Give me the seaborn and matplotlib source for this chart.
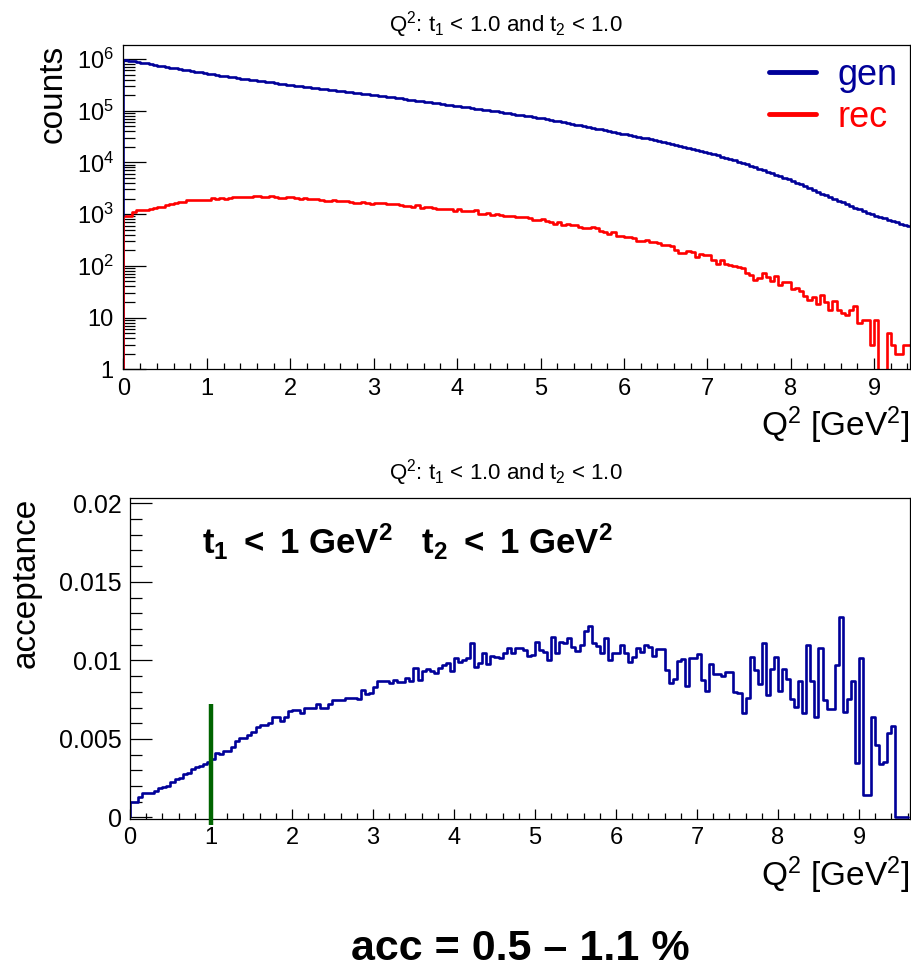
import numpy as np
import pandas as pd
import matplotlib
matplotlib.use("Agg")
import matplotlib.pyplot as plt
import seaborn as sns
from matplotlib.ticker import MultipleLocator, LogLocator, FuncFormatter, NullFormatter
from matplotlib.lines import Line2D

# ---------------- data ----------------
BIN_WIDTH = 0.05  # GeV^2 per bin, histograms start at Q2 = 0

gen_counts = [
    962000, 931000, 902000, 873000, 845000, 818000, 793000, 767000, 743000, 719000,
    697000, 677000, 657000, 638000, 619000, 600000, 583000, 565000, 549000, 533000,
    518000, 504000, 490000, 476000, 463000, 451000, 439000, 427000, 415000, 404000,
    394000, 385000, 376000, 367000, 359000, 351000, 343000, 335000, 327000, 320000,
    313000, 305000, 299000, 292000, 285000, 279000, 272000, 266000, 260000, 254000,
    248000, 243000, 237000, 232000, 226000, 221000, 216000, 211000, 207000, 202000,
    197000, 193000, 188000, 184000, 180000, 176000, 172000, 168000, 164000, 160000,
    156500, 152600, 148800, 145000, 141400, 137900, 134400, 131100, 127800, 124600,
    121500, 118400, 115500, 112600, 109800, 107000, 104300, 101700, 99200, 96700,
    94200, 91600, 89100, 86700, 84300, 82000, 79800, 77600, 75500, 73500,
    71200, 68800, 66400, 64200, 62000, 59900, 57900, 55900, 54000, 52200,
    50400, 48500, 46800, 45100, 43500, 41900, 40400, 38900, 37500, 36100,
    34800, 33600, 32400, 31200, 30100, 29000, 27900, 26900, 25900, 25000,
    24000, 23000, 22000, 21100, 20200, 19300, 18500, 17700, 16900, 16200,
    15400, 14500, 13700, 13000, 12200, 11550, 10900, 10300, 9720, 9170,
    8620, 8060, 7540, 7050, 6600, 6170, 5770, 5400, 5050, 4730,
    4390, 4050, 3740, 3450, 3180, 2930, 2710, 2500, 2300, 2130,
    1970, 1820, 1690, 1560, 1450, 1340, 1250, 1150, 1070, 993,
    927, 875, 824, 778, 733, 692, 652, 615, 580,
]

rec_counts = [
    900, 900, 1100, 1200, 1180, 1180, 1250, 1330, 1370, 1380,
    1500, 1600, 1610, 1720, 1720, 1848, 1877, 1859, 1883, 1887,
    1911, 2082, 1965, 2009, 1954, 2030, 2125, 2165, 2104, 2117,
    2147, 2206, 2211, 2158, 2165, 2236, 2185, 2057, 2083, 2166,
    2138, 2083, 1991, 2026, 1978, 1953, 1958, 1846, 1804, 1829,
    1853, 1815, 1770, 1759, 1713, 1675, 1629, 1711, 1625, 1604,
    1631, 1675, 1632, 1597, 1544, 1540, 1486, 1452, 1458, 1389,
    1485, 1335, 1387, 1367, 1318, 1265, 1281, 1272, 1259, 1161,
    1231, 1173, 1157, 1141, 1221, 1027, 1027, 1067, 969, 996,
    961, 928, 935, 934, 881, 886, 862, 827, 775, 760,
    797, 733, 698, 643, 713, 628, 648, 619, 618, 567,
    534, 533, 556, 550, 482, 458, 422, 443, 376, 379,
    365, 369, 339, 309, 308, 313, 294, 295, 282, 257,
    258, 247, 206, 180, 178, 192, 186, 148, 171, 164,
    160, 127, 111, 127, 111, 105, 98, 95, 90, 73,
    68, 53, 57, 72, 62, 52, 64, 42, 48, 48,
    35, 38, 33, 26, 22, 25, 18, 27, 20, 14,
    21, 14, 12, 11, 14, 17, 8, 9, 9, 3,
    9, 0, 0, 5, 3, 2, 2, 3, 3,
]

acceptance = [
    0.00099, 0.00099, 0.00131, 0.00153, 0.00153, 0.00153, 0.00170, 0.00185, 0.00195, 0.00201,
    0.00227, 0.00242, 0.00248, 0.00276, 0.00284, 0.00308, 0.00322, 0.00329, 0.00343, 0.00354,
    0.00369, 0.00413, 0.00401, 0.00422, 0.00422, 0.00450, 0.00484, 0.00507, 0.00507, 0.00524,
    0.00545, 0.00573, 0.00588, 0.00588, 0.00603, 0.00637, 0.00637, 0.00614, 0.00637, 0.00677,
    0.00683, 0.00683, 0.00666, 0.00694, 0.00694, 0.00700, 0.00720, 0.00694, 0.00694, 0.00720,
    0.00747, 0.00747, 0.00747, 0.00758, 0.00758, 0.00758, 0.00754, 0.00811, 0.00785, 0.00794,
    0.00828, 0.00868, 0.00868, 0.00868, 0.00858, 0.00875, 0.00864, 0.00864, 0.00889, 0.00868,
    0.00949, 0.00875, 0.00932, 0.00943, 0.00932, 0.00917, 0.00953, 0.00970, 0.00985, 0.00932,
    0.01013, 0.00991, 0.01002, 0.01013, 0.01112, 0.00960, 0.00985, 0.01049, 0.00977, 0.01030,
    0.01020, 0.01013, 0.01049, 0.01077, 0.01045, 0.01080, 0.01080, 0.01066, 0.01027, 0.01034,
    0.01119, 0.01066, 0.01051, 0.01002, 0.01150, 0.01049, 0.01119, 0.01108, 0.01144, 0.01087,
    0.01059, 0.01098, 0.01189, 0.01220, 0.01108, 0.01093, 0.01045, 0.01140, 0.01002, 0.01049,
    0.01049, 0.01098, 0.01045, 0.00991, 0.01023, 0.01080, 0.01055, 0.01098, 0.01087, 0.01027,
    0.01074, 0.01074, 0.00938, 0.00854, 0.00879, 0.00996, 0.01006, 0.00836, 0.01013, 0.01013,
    0.01038, 0.00875, 0.00807, 0.00977, 0.00913, 0.00913, 0.00902, 0.00927, 0.00927, 0.00800,
    0.00790, 0.00662, 0.00758, 0.01020, 0.00938, 0.00849, 0.01108, 0.00779, 0.00943, 0.01020,
    0.00807, 0.00943, 0.00881, 0.00752, 0.00705, 0.00868, 0.00662, 0.01098, 0.00870, 0.00641,
    0.01077, 0.00747, 0.00690, 0.00690, 0.00970, 0.01274, 0.00673, 0.00754, 0.00868, 0.00344,
    0.01013, 0.00146, 0.00146, 0.00637, 0.00460, 0.00340, 0.00350, 0.00535, 0.00581, 0.0,
    0.0, 0.0,
]

series_labels = ["gen", "rec"]
title_text = r"Q$^2$: t$_1$ < 1.0 and t$_2$ < 1.0"
xlabel_text = r"Q$^2$ [GeV$^2$]"
ylabel_top = "counts"
ylabel_bottom = "acceptance"
cut_text = r"$\mathbf{t_1\ <\ 1\ GeV^2\ \ \ t_2\ <\ 1\ GeV^2}$"
caption_text = "acc = 0.5 \u2013 1.1 %"
marker_q2 = 1.0          # green marker position
marker_top = 0.0072      # green marker top
marker_bottom = -0.0005  # green marker bottom (reaches a bit below frame)

# ---------------- style ----------------
sns.set_style("ticks")
plt.rcParams.update({
    "font.family": ["Liberation Sans", "DejaVu Sans"],
    "mathtext.fontset": "custom",
    "mathtext.rm": "Liberation Sans",
    "mathtext.it": "Liberation Sans:italic",
    "mathtext.bf": "Liberation Sans:bold",
    "mathtext.sf": "Liberation Sans",
    "axes.linewidth": 0.9,
    "axes.edgecolor": "black",
    "axes.labelcolor": "black",
    "text.color": "black",
    "xtick.color": "black",
    "ytick.color": "black",
    "xtick.labelcolor": "black",
    "ytick.labelcolor": "black",
})

GEN_COLOR = "#000099"
REC_COLOR = "#ff0000"
ACC_COLOR = "#000099"
MARK_COLOR = "#006400"
LW = 1.9


def hist_frame(values):
    n = len(values)
    edges = np.arange(n + 1) * BIN_WIDTH
    centers = edges[:-1] + BIN_WIDTH / 2
    return pd.DataFrame({"q2": centers, "w": values}), [float(e) for e in edges]


W, H = 912, 971
fig = plt.figure(figsize=(W / 100, H / 100), dpi=100)
ax1 = fig.add_axes([123.5 / W, 1 - 369.3 / H, (910 - 123.5) / W, (369.3 - 45) / H])
ax2 = fig.add_axes([130 / W, 1 - 819 / H, (910 - 130) / W, (819 - 497.7) / H])

# ---------------- top panel ----------------
gen_df, gen_edges = hist_frame(gen_counts)
rec_df, rec_edges = hist_frame(rec_counts)
sns.histplot(data=gen_df, x="q2", weights="w", bins=gen_edges, element="step",
             fill=False, color=GEN_COLOR, linewidth=LW, ax=ax1)
sns.histplot(data=rec_df, x="q2", weights="w", bins=rec_edges, element="step",
             fill=False, color=REC_COLOR, linewidth=LW, ax=ax1)
ax1.set_yscale("log")
y1min, y1max = 1, 1.86e6
ax1.vlines(gen_edges[0], y1min, gen_counts[0], color=GEN_COLOR, lw=LW)
ax1.vlines(rec_edges[0], y1min, rec_counts[0], color=REC_COLOR, lw=LW)
ax1.set_xlim(0, 9.43)
ax1.set_ylim(y1min, y1max)

ax1.xaxis.set_major_locator(MultipleLocator(1))
ax1.xaxis.set_minor_locator(MultipleLocator(0.2))
ax1.yaxis.set_major_locator(LogLocator(base=10, numticks=12))
ax1.yaxis.set_minor_locator(LogLocator(base=10, subs=np.arange(2, 10), numticks=40))
ax1.yaxis.set_minor_formatter(NullFormatter())


def logfmt(v, pos):
    e = int(round(np.log10(v)))
    if e == 0:
        return "1"
    if e == 1:
        return "10"
    return r"$10^{%d}$" % e


ax1.yaxis.set_major_formatter(FuncFormatter(logfmt))
ax1.tick_params(axis="both", which="both", direction="in", top=False, right=False,
                labelsize=17, width=0.9)
ax1.tick_params(axis="x", which="major", length=8, pad=6)
ax1.tick_params(axis="x", which="minor", length=4.3)
ax1.tick_params(axis="y", which="major", length=16.5, pad=7)
ax1.tick_params(axis="y", which="minor", length=8.5)

ax1.set_xlabel(xlabel_text, fontsize=24, loc="right")
ax1.xaxis.set_label_coords(1.0, -0.11)
ax1.set_ylabel(ylabel_top, fontsize=24, loc="top")
ax1.yaxis.set_label_coords(-0.07, 1.0)

handles = [Line2D([], [], color=GEN_COLOR, lw=3.5), Line2D([], [], color=REC_COLOR, lw=3.5)]
ax1.legend(handles, series_labels, loc="upper right", frameon=False, fontsize=26,
           labelcolor=[GEN_COLOR, REC_COLOR], handlelength=1.3, handletextpad=0.6,
           labelspacing=0.2, borderaxespad=0.15, borderpad=0.2)

fig.text(0.555, 1 - 25 / H, title_text, ha="center", va="center", fontsize=16)

# ---------------- bottom panel ----------------
acc_df, acc_edges = hist_frame(acceptance)
sns.histplot(data=acc_df, x="q2", weights="w", bins=acc_edges, element="step",
             fill=False, color=ACC_COLOR, linewidth=LW, ax=ax2)
ax2.vlines(acc_edges[0], 0, acceptance[0], color=ACC_COLOR, lw=LW)
ax2.vlines(marker_q2, marker_bottom, marker_top, color=MARK_COLOR, lw=3.2,
           clip_on=False, zorder=5)
ax2.set_xlim(0, 9.63)
ax2.set_ylim(-0.0001, 0.02036)

ax2.xaxis.set_major_locator(MultipleLocator(1))
ax2.xaxis.set_minor_locator(MultipleLocator(0.2))
ax2.yaxis.set_major_locator(MultipleLocator(0.005))
ax2.yaxis.set_minor_locator(MultipleLocator(0.001))
ax2.yaxis.set_major_formatter(FuncFormatter(lambda v, p: "%g" % round(v, 6)))
ax2.tick_params(axis="both", which="both", direction="in", top=False, right=False,
                width=0.9)
ax2.tick_params(axis="x", which="major", length=7.5, pad=6, labelsize=17)
ax2.tick_params(axis="x", which="minor", length=4)
ax2.tick_params(axis="y", which="major", length=16, pad=6, labelsize=18)
ax2.tick_params(axis="y", which="minor", length=8.5)

ax2.set_xlabel(xlabel_text, fontsize=24, loc="right")
ax2.xaxis.set_label_coords(1.0, -0.11)
ax2.set_ylabel(ylabel_bottom, fontsize=24, loc="top")
ax2.yaxis.set_label_coords(-0.113, 1.0)

ax2.text(0.092, 0.825, cut_text, transform=ax2.transAxes, fontsize=25,
         ha="left", va="baseline")

fig.text(0.555, 1 - 473 / H, title_text, ha="center", va="center", fontsize=16)

fig.text(520 / W, 11 / H, caption_text, ha="center", va="baseline", fontsize=31,
         fontweight="bold")

fig.savefig("out.png", dpi=100)
